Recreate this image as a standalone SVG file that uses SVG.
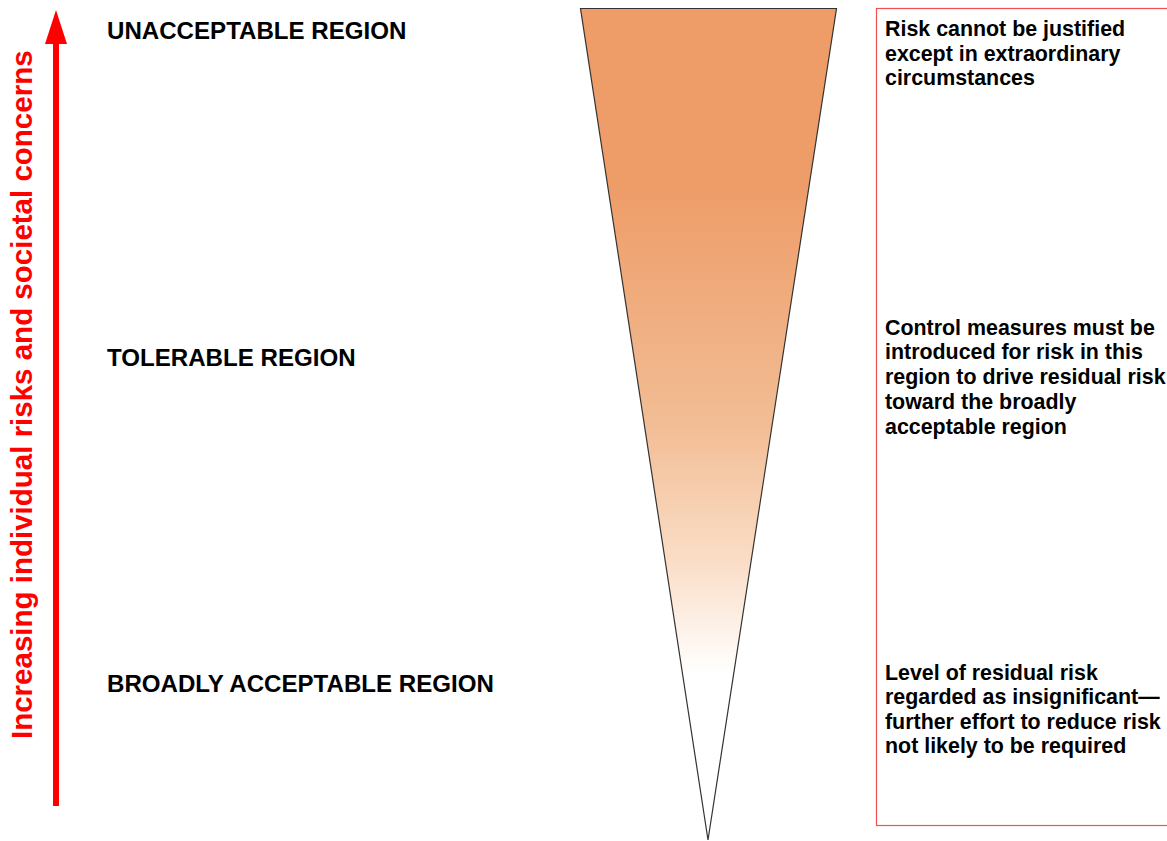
<svg xmlns="http://www.w3.org/2000/svg" width="1167" height="841" viewBox="0 0 1167 841">
<defs>
<linearGradient id="riskGrad" x1="0" y1="0" x2="0" y2="1">
<stop offset="0" stop-color="#EE9C68"/>
<stop offset="0.22" stop-color="#EE9D69"/>
<stop offset="0.5" stop-color="#F2BD95"/>
<stop offset="0.66" stop-color="#FADCC5"/>
<stop offset="0.8" stop-color="#FFFFFF"/>
<stop offset="1" stop-color="#FFFFFF"/>
</linearGradient>
<style>
.lbl{font-family:"Liberation Sans",Arial,sans-serif;font-weight:bold;font-size:24.1px;fill:#000}
.desc{font-family:"Liberation Sans",Arial,sans-serif;font-weight:bold;font-size:21.4px;fill:#000}
.axis{font-family:"Liberation Sans",Arial,sans-serif;font-weight:bold;font-size:29.5px;fill:#FF0000}
</style>
</defs>
<rect width="1167" height="841" fill="#FFFFFF"/>
<g id="axis-arrow">
<rect x="53" y="42" width="6" height="764" fill="#FF0000"/>
<polygon points="56,10 45,44 67,44" fill="#FF0000"/>
<text class="axis" transform="translate(32,739) rotate(-90)">Increasing individual risks and societal concerns</text>
</g>
<g id="triangle">
<polygon points="580.5,8.5 836.5,8.5 708,840" fill="url(#riskGrad)" stroke="#333333" stroke-width="1.2"/>
</g>
<g id="region-labels">
<text class="lbl" x="107" y="39">UNACCEPTABLE REGION</text>
<text class="lbl" x="107" y="366">TOLERABLE REGION</text>
<text class="lbl" x="107" y="692">BROADLY ACCEPTABLE REGION</text>
</g>
<g id="description-box">
<rect x="876.5" y="8.5" width="300" height="817" fill="none" stroke="#F05050" stroke-width="1.2"/>
<text class="desc" x="885" y="36">Risk cannot be justified</text>
<text class="desc" x="885" y="60.5">except in extraordinary</text>
<text class="desc" x="885" y="85">circumstances</text>
<text class="desc" x="885" y="334.5">Control measures must be</text>
<text class="desc" x="885" y="359.3">introduced for risk in this</text>
<text class="desc" x="885" y="384.1">region to drive residual risk</text>
<text class="desc" x="885" y="408.9">toward the broadly</text>
<text class="desc" x="885" y="433.7">acceptable region</text>
<text class="desc" x="885" y="680">Level of residual risk</text>
<text class="desc" x="885" y="704.4">regarded as insignificant—</text>
<text class="desc" x="885" y="728.8">further effort to reduce risk</text>
<text class="desc" x="885" y="753.2">not likely to be required</text>
</g>
<g id="connectors"></g>
</svg>
